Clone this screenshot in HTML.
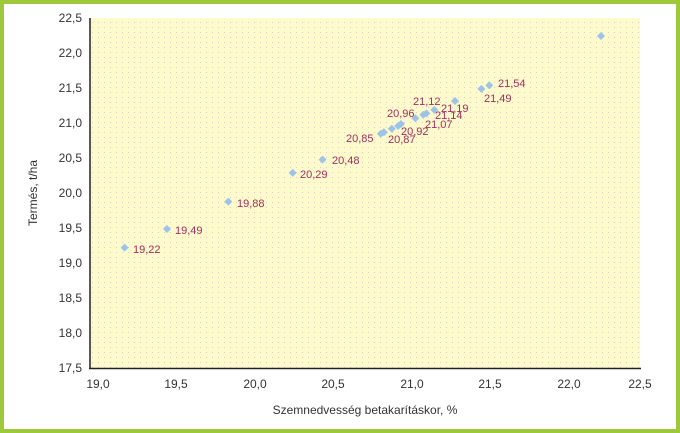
<!DOCTYPE html><html><head><style>body{margin:0;background:#fff}svg{display:block}</style></head><body>
<svg width="680" height="433" xmlns="http://www.w3.org/2000/svg" font-family="Liberation Sans, sans-serif">
<defs><pattern id="p" width="6" height="5" patternUnits="userSpaceOnUse"><rect width="6" height="5" fill="#fdfbcc"/><rect x="2" y="2" width="1" height="1" fill="#e8c8c8"/></pattern></defs>
<rect x="0" y="0" width="680" height="433" fill="#9dc93a"/>
<rect x="4" y="4" width="672" height="425" fill="#fff"/>
<rect x="90" y="18" width="550" height="350" fill="url(#p)"/>
<g stroke="#222" stroke-width="1.5"><line x1="90" y1="18" x2="90" y2="369"/><line x1="89" y1="368.5" x2="641" y2="368.5"/></g>
<g font-size="12" fill="#333" text-anchor="end">
<text x="82" y="22">22,5</text><text x="82" y="57">22,0</text><text x="82" y="92">21,5</text><text x="82" y="127">21,0</text><text x="82" y="162">20,5</text><text x="82" y="197">20,0</text><text x="82" y="232">19,5</text><text x="82" y="267">19,0</text><text x="82" y="302">18,5</text><text x="82" y="337">18,0</text><text x="82" y="372">17,5</text></g>
<g font-size="12" fill="#333" text-anchor="middle">
<text x="98" y="388">19,0</text><text x="176" y="388">19,5</text><text x="255" y="388">20,0</text><text x="333" y="388">20,5</text><text x="412" y="388">21,0</text><text x="490" y="388">21,5</text><text x="569" y="388">22,0</text><text x="640" y="388">22,5</text>
<text x="365" y="414">Szemnedvesség betakarításkor, %</text>
<text transform="translate(37,193) rotate(-90)">Termés, t/ha</text></g>
<g fill="#9cc3e8">
<path d="M124.6 243.6l4 4-4 4-4-4z"/><path d="M167 225l4 4-4 4-4-4z"/><path d="M228.3 197.6l4 4-4 4-4-4z"/><path d="M292.7 168.9l4 4-4 4-4-4z"/><path d="M322.6 155.6l4 4-4 4-4-4z"/><path d="M380.8 129.7l4 4-4 4-4-4z"/><path d="M383.9 128.3l4 4-4 4-4-4z"/><path d="M391.8 124.8l4 4-4 4-4-4z"/><path d="M398.1 122l4 4-4 4-4-4z"/><path d="M401 120l4 4-4 4-4-4z"/><path d="M415.4 114.3l4 4-4 4-4-4z"/><path d="M423.3 110.8l4 4-4 4-4-4z"/><path d="M426.4 109.4l4 4-4 4-4-4z"/><path d="M434.3 105.9l4 4-4 4-4-4z"/><path d="M455 97l4 4-4 4-4-4z"/><path d="M481.4 84.9l4 4-4 4-4-4z"/><path d="M489.3 81.4l4 4-4 4-4-4z"/><path d="M601 32l4 4-4 4-4-4z"/></g>
<g font-size="11" fill="#a03060">
<text x="133" y="253">19,22</text><text x="175" y="234">19,49</text><text x="237" y="207">19,88</text><text x="300" y="178">20,29</text><text x="332" y="164">20,48</text><text x="346" y="142">20,85</text><text x="388" y="143">20,87</text><text x="401" y="135">20,92</text><text x="387" y="117">20,96</text><text x="425" y="128">21,07</text><text x="413" y="105">21,12</text><text x="435" y="119">21,14</text><text x="441" y="112">21,19</text><text x="484" y="102">21,49</text><text x="498" y="87">21,54</text></g>
</svg></body></html>
